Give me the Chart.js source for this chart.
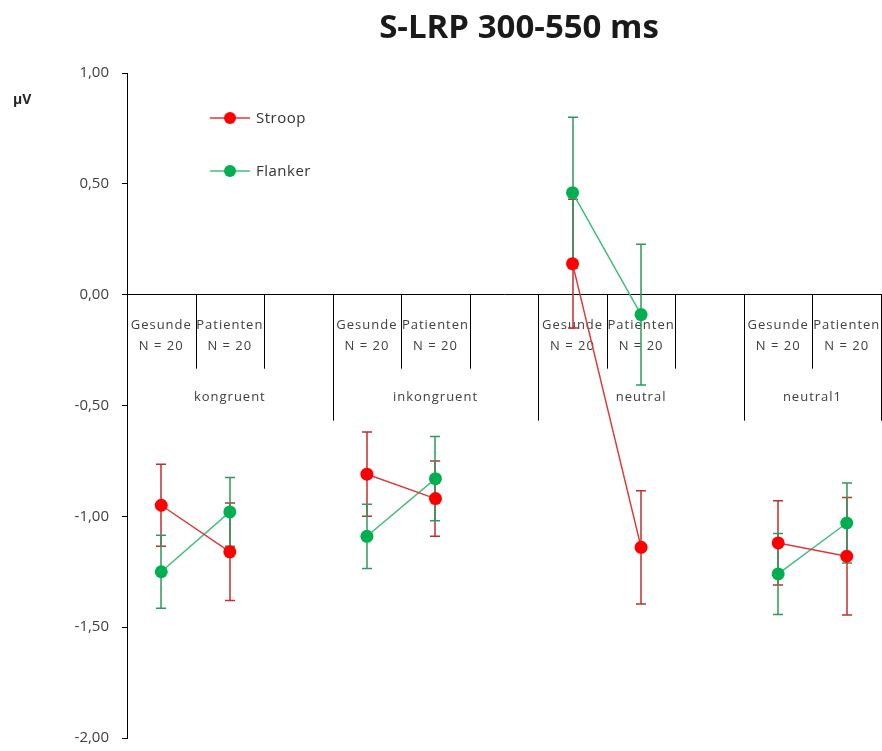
<!DOCTYPE html>
<html>
<head>
<meta charset="utf-8">
<script src="https://cdn.jsdelivr.net/npm/chart.js@4/dist/chart.umd.min.js"></script>
<style>
  html, body { margin: 0; padding: 0; background: #ffffff; }
  #wrap { width: 882px; height: 751px; position: relative; }
</style>
</head>
<body>
<div id="wrap"><canvas id="chart"></canvas></div>
<script>
// ---- data ----
const chartTitle = 'S-LRP 300-550 ms';
const unitLabel = 'µV';
const conditions = ['kongruent', 'inkongruent', 'neutral', 'neutral1'];
const sampleLabel = 'N = 20';
// two groups per condition, an empty slot separates the conditions
const categories = ['Gesunde', 'Patienten', '', 'Gesunde', 'Patienten', '', 'Gesunde', 'Patienten', '', 'Gesunde', 'Patienten'];
const stroopMean = [-0.95, -1.16, null, -0.81, -0.92, null, 0.14, -1.14, null, -1.12, -1.18];
const stroopErr  = [0.185, 0.22, null, 0.19, 0.17, null, 0.29, 0.255, null, 0.19, 0.265];
const flankerMean = [-1.25, -0.98, null, -1.09, -0.83, null, 0.46, -0.09, null, -1.26, -1.03];
const flankerErr  = [0.165, 0.155, null, 0.145, 0.19, null, 0.34, 0.317, null, 0.183, 0.18];
const yMin = -2, yMax = 1, yStep = 0.5;

// ---- styling ----
const textColor = '#404040';
const series = [
  { label: 'Stroop', mean: stroopMean, err: stroopErr, line: '#dd3a3a', point: '#ff0000', bar: '#c0302e' },
  { label: 'Flanker', mean: flankerMean, err: flankerErr, line: '#45bd7d', point: '#00b050', bar: '#2f9a5c' }
];

function fmt(v) {
  return v.toFixed(2).replace('.', ',');
}

function slotEdge(xs, k) {
  // left edge of slot k (k may equal the slot count for the right end)
  const n = categories.length;
  const w = (xs.getPixelForValue(n - 1) - xs.getPixelForValue(0)) / (n - 1);
  return xs.getPixelForValue(0) - w / 2 + k * w;
}

function noScalePadding(scale) {
  scale.paddingLeft = 0;
  scale.paddingRight = 0;
  scale.paddingTop = 0;
  scale.paddingBottom = 0;
}

// category axis: group labels, sample sizes, condition names and dividers below the zero line
const categoryAxisPlugin = {
  id: 'categoryAxis',
  beforeDatasetsDraw(chart) {
    const { ctx, scales: { x, y } } = chart;
    const y0 = y.getPixelForValue(0);
    const n = categories.length;
    ctx.save();
    ctx.strokeStyle = '#000000';
    ctx.lineWidth = 1;
    ctx.fillStyle = textColor;
    ctx.font = '13px "Open Sans"';
    ctx.letterSpacing = '1px';
    ctx.textAlign = 'center';
    ctx.textBaseline = 'middle';
    conditions.forEach((name, c) => {
      const s = c * 3;
      const end = Math.min(s + 3, n);
      // long divider at the start of each condition (the first one is the y axis)
      const edges = [];
      if (c > 0) edges.push([slotEdge(x, s), 126]);
      edges.push([slotEdge(x, s + 1), 74]);
      edges.push([slotEdge(x, s + 2), end === s + 2 ? 126 : 74]);
      if (end === s + 3 && end === n) edges.push([slotEdge(x, end), 126]);
      edges.forEach(([ex, len]) => {
        const px = Math.min(Math.round(ex) + 0.5, chart.width - 0.5);
        ctx.beginPath();
        ctx.moveTo(px, y0);
        ctx.lineTo(px, y0 + len);
        ctx.stroke();
      });
      for (let k = s; k < end; k++) {
        if (!categories[k]) continue;
        const cx = x.getPixelForValue(k);
        ctx.fillText(categories[k], cx, y0 + 31);
        ctx.fillText(sampleLabel, cx, y0 + 52);
      }
      const mid = (slotEdge(x, s) + slotEdge(x, end)) / 2;
      ctx.fillText(name, mid, y0 + 103);
    });
    ctx.restore();
  }
};

// vertical error bars with caps, drawn beneath the series
const errorBarPlugin = {
  id: 'errorBars',
  beforeDatasetsDraw(chart) {
    const { ctx, scales: { x, y } } = chart;
    ctx.save();
    ctx.lineWidth = 1.5;
    series.forEach((s) => {
      ctx.strokeStyle = s.bar;
      s.mean.forEach((m, i) => {
        if (m === null) return;
        const px = Math.round(x.getPixelForValue(i));
        const top = y.getPixelForValue(m + s.err[i]);
        const bot = y.getPixelForValue(m - s.err[i]);
        ctx.beginPath();
        ctx.moveTo(px, top);
        ctx.lineTo(px, bot);
        ctx.moveTo(px - 5, top);
        ctx.lineTo(px + 5, top);
        ctx.moveTo(px - 5, bot);
        ctx.lineTo(px + 5, bot);
        ctx.stroke();
      });
    });
    ctx.restore();
  }
};

// title, unit label and legend
const decorPlugin = {
  id: 'decor',
  afterDraw(chart) {
    const { ctx } = chart;
    ctx.save();
    ctx.letterSpacing = '0px';
    ctx.fillStyle = '#1a1a1a';
    ctx.font = 'bold 33px "Open Sans"';
    ctx.textAlign = 'center';
    ctx.textBaseline = 'alphabetic';
    ctx.fillText(chartTitle, 519, 38);

    ctx.font = 'bold 14px "Open Sans"';
    ctx.textAlign = 'left';
    ctx.fillStyle = '#262626';
    ctx.fillText(unitLabel, 13, 104);

    ctx.font = '15px "Open Sans"';
    ctx.letterSpacing = '0.5px';
    ctx.textBaseline = 'middle';
    series.forEach((s, i) => {
      const ly = 118 + i * 53;
      ctx.strokeStyle = s.line;
      ctx.lineWidth = 1.5;
      ctx.beginPath();
      ctx.moveTo(210, ly);
      ctx.lineTo(250, ly);
      ctx.stroke();
      ctx.fillStyle = s.point;
      ctx.beginPath();
      ctx.arc(230, ly, 6, 0, Math.PI * 2);
      ctx.fill();
      ctx.fillStyle = '#333333';
      ctx.fillText(s.label, 256, ly + 1);
    });
    ctx.restore();
  }
};

const ctx = document.getElementById('chart').getContext('2d');
new Chart(ctx, {
  type: 'line',
  data: {
    labels: categories,
    datasets: series.map((s) => ({
      label: s.label,
      data: s.mean,
      borderColor: s.line,
      borderWidth: 1.5,
      backgroundColor: s.point,
      pointBackgroundColor: s.point,
      pointBorderColor: s.point,
      pointBorderWidth: 0,
      pointRadius: 6.5,
      pointHoverRadius: 6.5,
      spanGaps: false,
      tension: 0,
      fill: false,
      clip: false
    }))
  },
  options: {
    responsive: true,
    maintainAspectRatio: false,
    animation: false,
    events: [],
    layout: { autoPadding: false, padding: { left: 0, top: 73, right: 1, bottom: 13 } },
    plugins: {
      legend: { display: false },
      title: { display: false },
      tooltip: { enabled: false }
    },
    scales: {
      x: {
        type: 'category',
        position: { y: 0 },
        offset: true,
        ticks: { display: false },
        grid: { display: true, drawOnChartArea: false, drawTicks: false },
        border: { display: true, color: '#000000', width: 1 },
        afterFit(scale) { scale.height = 0; noScalePadding(scale); }
      },
      y: {
        min: yMin,
        max: yMax,
        ticks: {
          stepSize: yStep,
          padding: 13,
          color: textColor,
          font: { family: '"Open Sans"', size: 15 },
          callback: (v) => fmt(v)
        },
        grid: { drawOnChartArea: false, drawTicks: true, tickLength: 5, color: '#000000' },
        border: { display: true, color: '#000000', width: 1 },
        afterFit(scale) { scale.width = 127; noScalePadding(scale); }
      }
    }
  },
  plugins: [categoryAxisPlugin, errorBarPlugin, decorPlugin]
});
</script>
</body>
</html>
